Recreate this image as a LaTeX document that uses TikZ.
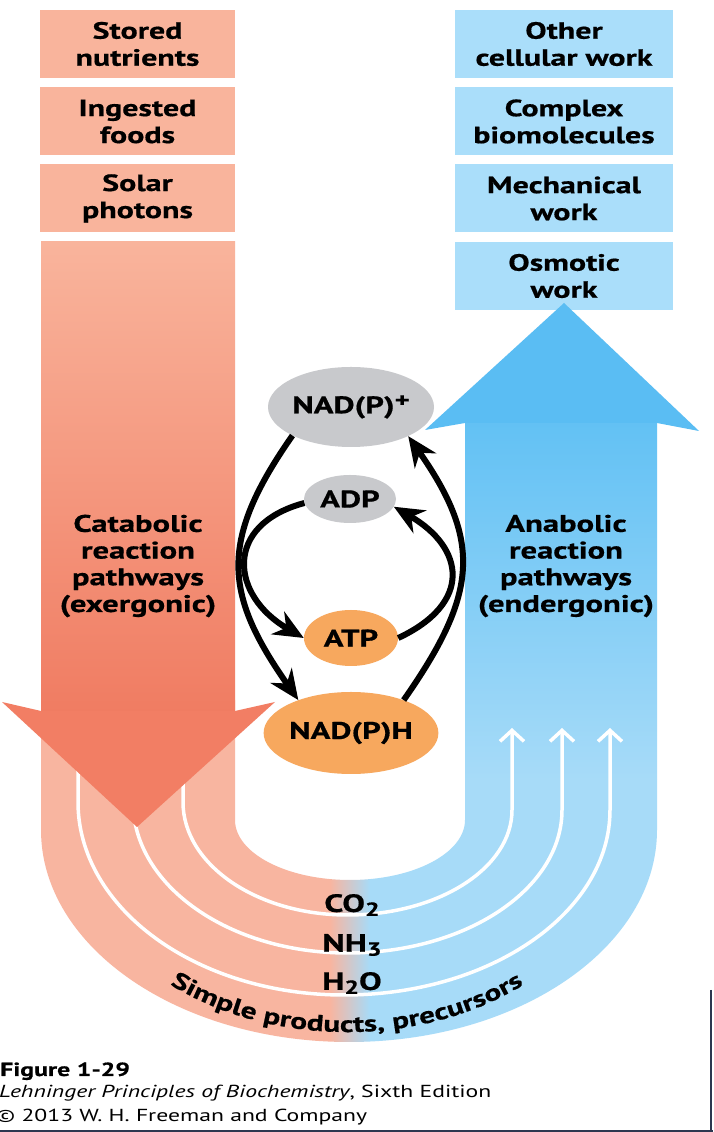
\documentclass[tikz,border=0pt]{standalone}
\usepackage{fontspec}
\setmainfont{PT Sans}[FakeStretch=1.36,BoldFeatures={FakeBold=0.6}]
\usetikzlibrary{arrows.meta,positioning,shapes.geometric,decorations.text}

\definecolor{catpink}{RGB}{249,180,156}
\definecolor{catdeep}{RGB}{240,124,98}
\definecolor{cathead}{RGB}{242,126,100}
\definecolor{bandpink}{RGB}{248,181,160}
\definecolor{anablue}{RGB}{170,222,250}
\definecolor{bandblue}{RGB}{167,219,248}
\definecolor{anadeep}{RGB}{98,193,244}
\definecolor{anahead}{RGB}{90,189,243}
\definecolor{nadgray}{RGB}{200,201,204}
\definecolor{atporange}{RGB}{247,168,94}
\definecolor{screenframe}{RGB}{45,55,80}

\newcommand{\lowsub}[1]{\raisebox{-4pt}{\fontsize{19}{19}\selectfont #1}}

\begin{document}
\begin{tikzpicture}[x=1pt,y=1pt,
    inbox/.style={fill=catpink,minimum width=195pt,minimum height=68pt,inner sep=0pt,
                  align=center,font=\fontsize{23.5}{27}\selectfont\bfseries},
    outbox/.style={inbox,fill=anablue,minimum width=218pt},
    carrier/.style={ellipse,inner sep=0pt,font=\fontsize{24}{27}\selectfont\bfseries},
    cyc/.style={line width=6pt,-{Stealth[length=30pt,width=26pt]}},
    flow/.style={white,line width=3.5pt,-{Straight Barb[length=11pt,width=24pt]}},
    pathlabel/.style={align=center,font=\fontsize{24}{26.7}\selectfont\bfseries},
    product/.style={font=\fontsize{25}{27}\selectfont\bfseries},
    credit/.style={anchor=base west,inner sep=0pt,font=\fontsize{17.4}{20}\selectfont},
]
\useasboundingbox (0,0) rectangle (713,1132);
\fill[white] (0,0) rectangle (713,1132);

% ---- x positions ---------------------------------------------------------
\def\xIn{137.5}
\def\xOut{564}

% ---- U-shaped band -------------------------------------------------------
\begin{scope}
  \clip (41,432) -- (41,302)
        arc[start angle=180,end angle=360,x radius=308,y radius=212]
        -- (657,352) -- (465,352) -- (465,312)
        arc[start angle=0,end angle=-180,x radius=115,y radius=60]
        -- (235,432) -- cycle;
  \fill[bandpink] (0,0) rectangle (330,440);
  \shade[left color=bandpink,right color=bandblue] (330,0) rectangle (370,440);
  \fill[bandblue] (370,0) rectangle (713,440);
\end{scope}

% ---- Anabolic shaft ------------------------------------------------------
\shade[top color=anadeep,bottom color=bandblue] (465,352) rectangle (657,712);

% ---- Simple products (white flow lines) ---------------------------------
\draw[flow] (78,425) -- (78,330)
    arc[start angle=180,end angle=270,x radius=266,y radius=193]
    arc[start angle=270,end angle=360,x radius=266,y radius=185] -- (610,404);
\draw[flow] (133,425) -- (133,330)
    arc[start angle=180,end angle=270,x radius=214.5,y radius=151]
    arc[start angle=270,end angle=360,x radius=214.5,y radius=143] -- (562,404);
\draw[flow] (183,425) -- (183,330)
    arc[start angle=180,end angle=270,x radius=164.5,y radius=113]
    arc[start angle=270,end angle=360,x radius=164.5,y radius=105] -- (512,404);

% ---- Catabolic arrow -----------------------------------------------------
\shade[top color=catpink,bottom color=catdeep] (41,419) rectangle (235,890);
\fill[cathead] (41,421) -- (2,430) -- (137,305) -- (275,430) -- (235,421) -- cycle;

% ---- Energy sources and work boxes --------------------------------------
\node[inbox] (stored) at (\xIn,1088) {Stored\\nutrients};
\node[inbox] (foods) at (\xIn,1010.5) {Ingested\\foods};
\node[inbox] (solar) at (\xIn,933.5) {Solar\\photons};

\node[outbox] (other) at (\xOut,1088) {Other\\cellular work};
\node[outbox] (complex) at (\xOut,1010.5) {Complex\\biomolecules};
\node[outbox] (mech) at (\xOut,933.5) {Mechanical\\work};
\node[outbox] (osmo) at (\xOut,856) {Osmotic\\work};

% ---- Anabolic arrow head -------------------------------------------------
\fill[anahead] (465,709) -- (425,702) -- (564,829) -- (699,701) -- (657,709) -- cycle;

% ---- Carriers ------------------------------------------------------------
\node[carrier,fill=nadgray,minimum width=132pt,minimum height=80pt] (nadp) at (351,725)
    {NAD(P)\raisebox{6pt}{\fontsize{21}{21}\selectfont +}};
\node[carrier,fill=nadgray,minimum width=92pt,minimum height=48pt] (adp) at (350,633) {ADP};
\node[carrier,fill=atporange,minimum width=94pt,minimum height=56pt] (atp) at (351,494) {ATP};
\node[carrier,fill=atporange,minimum width=136pt,minimum height=82pt] (nadph) at (351,399) {NAD(P)H};

\draw[cyc] (nadp.206) to[out=235,in=125,looseness=1.25] (nadph.148);
\draw[cyc] (adp.185) to[out=195,in=150,looseness=1.6] (atp.west);
\draw[cyc] (nadph.32) to[out=55,in=-55,looseness=1.25] (nadp.-27);
\draw[cyc] (atp.east) to[out=25,in=-30,looseness=1.6] (adp.-10);

% ---- Pathway labels ------------------------------------------------------
\node[pathlabel] (cat) at (138,566) {Catabolic\\reaction\\pathways\\(exergonic)};
\node[pathlabel] (ana) at (566,566) {Anabolic\\reaction\\pathways\\(endergonic)};

\node[product] (co2) at (352,227) {CO\lowsub{2}};
\node[product] (nh3) at (352,187) {NH\lowsub{3}};
\node[product] (h2o) at (352,149) {H\lowsub{2}O};

\path[decorate,decoration={text along path,text align=center,
      text={|\fontsize{23}{26}\selectfont\bfseries|Simple products, precursors}}]
    (68,310) arc[start angle=180,end angle=360,x radius=279,y radius=210];

% ---- Credit --------------------------------------------------------------
\node[credit,font=\fontsize{19}{20}\selectfont\bfseries] (fig) at (0,56) {Figure 1-29};
\node[credit] (book) at (-1,34.5) {\textit{Lehninger Principles of Biochemistry}, Sixth Edition};
\node[credit] (copy) at (-4,10) {\textcopyright{} 2013 W. H. Freeman and Company};

% ---- Screen frame --------------------------------------------------------
\draw[screenframe,line width=2pt] (711,142) -- (711,0);
\draw[screenframe,line width=2pt] (0,1) -- (713,1);

\end{tikzpicture}
\end{document}
